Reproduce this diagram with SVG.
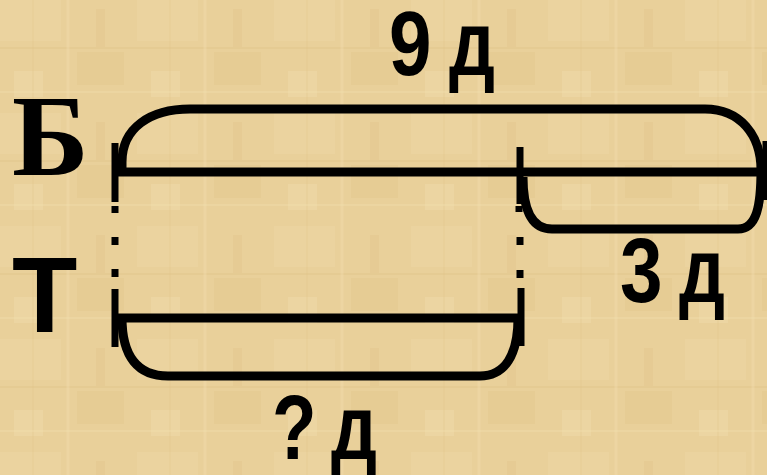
<svg xmlns="http://www.w3.org/2000/svg" width="767" height="475" viewBox="0 0 767 475">
<style>
.ln{fill:none;stroke:#000;stroke-width:9;stroke-linecap:butt;stroke-linejoin:round}
.tk{stroke:#000;stroke-width:7;fill:none}
.num{font-family:"Liberation Sans",Arial,sans-serif;font-weight:bold;font-size:91px;fill:#000}
</style>
<defs>
<pattern id="pap" width="137" height="113" patternUnits="userSpaceOnUse">
<rect width="137" height="113" fill="#E9D09A"/>
<rect x="0" y="0" width="61" height="41" fill="#EDD6A4" opacity="0.5"/>
<rect x="77" y="52" width="47" height="33" fill="#E2C78D" opacity="0.45"/>
<rect x="14" y="71" width="29" height="26" fill="#EFDBAA" opacity="0.45"/>
<rect x="96" y="9" width="9" height="38" fill="#DFC389" opacity="0.35"/>
<line x1="0" y1="48" x2="137" y2="48" stroke="#DDC185" stroke-width="2" opacity="0.35"/>
<line x1="68" y1="0" x2="68" y2="113" stroke="#F2DFB0" stroke-width="3" opacity="0.35"/>
<line x1="33" y1="0" x2="33" y2="113" stroke="#DCC084" stroke-width="1" opacity="0.35"/>
<line x1="0" y1="92" x2="137" y2="92" stroke="#F1DEAE" stroke-width="2" opacity="0.35"/>
</pattern>
</defs>
<rect width="767" height="475" fill="url(#pap)"/>
<g id="connectors">
<line class="ln" x1="118" y1="172" x2="767" y2="172"/>
<line class="ln" x1="118" y1="318" x2="520" y2="318"/>
<path id="brace-total" class="ln" d="M122 172 L122 162 C122 128 150 109 190 109 L705 109 C740 109 761 135 761 170 C761 205 757 229 738 229 L552 229 C535 229 523 215 523 177"/>
<path id="brace-bottom" class="ln" d="M122 318 C122 357 138 376 168 376 L480 376 C505 376 518 355 518 318"/>
<g id="tick-left" class="tk">
<line x1="115" y1="143" x2="115" y2="202"/>
<line x1="115" y1="206" x2="115" y2="213"/>
<line x1="115" y1="237" x2="115" y2="245"/>
<line x1="115" y1="269" x2="115" y2="277"/>
<line x1="115" y1="289" x2="115" y2="347"/>
</g>
<g id="tick-mid" class="tk">
<line x1="520" y1="147" x2="520" y2="204"/>
<line x1="519" y1="206" x2="519" y2="212"/>
<line x1="520" y1="237" x2="520" y2="245"/>
<line x1="520" y1="270" x2="520" y2="278"/>
<line x1="521" y1="288" x2="521" y2="346"/>
</g>
<line class="tk" x1="766" y1="141" x2="766" y2="200"/>
</g>
<g id="label-B"><text x="12" y="175" font-family="'Liberation Serif','Times New Roman',serif" font-weight="bold" font-size="116">Б</text></g>
<g id="label-T"><text x="12" y="332" font-family="'Liberation Sans',Arial,sans-serif" font-weight="bold" font-size="107">Т</text></g>
<g id="label-9d">
<text class="num" x="389" y="75" textLength="42.5" lengthAdjust="spacingAndGlyphs">9</text>
<text class="num" x="449" y="75" textLength="46" lengthAdjust="spacingAndGlyphs">д</text>
</g>
<g id="label-3d">
<text class="num" x="620" y="302" textLength="42.5" lengthAdjust="spacingAndGlyphs">3</text>
<text class="num" x="679" y="302" textLength="46" lengthAdjust="spacingAndGlyphs">д</text>
</g>
<g id="label-qd">
<text class="num" x="272" y="459" textLength="44.5" lengthAdjust="spacingAndGlyphs">?</text>
<text class="num" x="331" y="459" textLength="46" lengthAdjust="spacingAndGlyphs">д</text>
</g>
</svg>
